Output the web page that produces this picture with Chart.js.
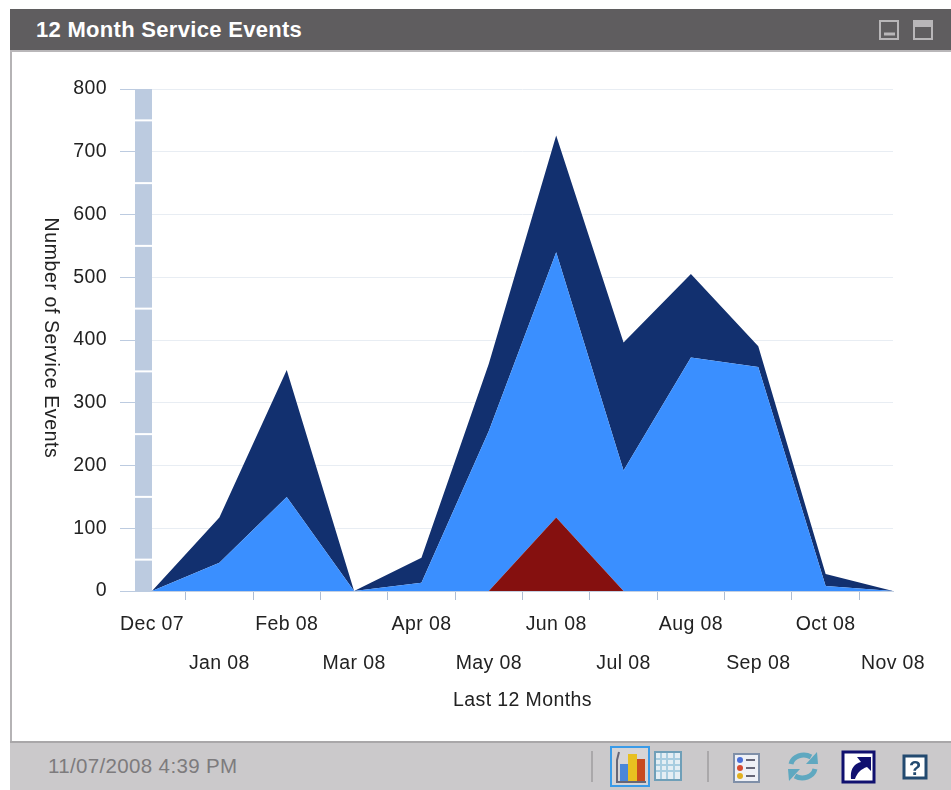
<!DOCTYPE html>
<html>
<head>
<meta charset="utf-8">
<title>12 Month Service Events</title>
<script src="https://cdn.jsdelivr.net/npm/chart.js@4"></script>
<style>
html, body { margin: 0; padding: 0; background: #fff; overflow: hidden; }
body { width: 951px; height: 790px; position: relative; font-family: "Liberation Sans", Arial, sans-serif; }
#frame { position: absolute; left: 10px; top: 9px; width: 941px; height: 781px; border-left: 2px solid #b5b3b5; box-sizing: border-box; }
#head { position: absolute; left: 10px; top: 9px; width: 941px; height: 43px; background: #5f5d5f; border-bottom: 2px solid #b9b7b9; box-sizing: border-box; color: #fff; font-weight: bold; font-size: 22px; letter-spacing: 0.3px; line-height: 42px; padding-left: 26px; }
#foot { position: absolute; left: 10px; top: 741px; width: 941px; height: 49px; background: #cbc9cb; border-top: 2px solid #a9a7a9; box-sizing: border-box; color: #7d7b7d; font-size: 20.5px; letter-spacing: 0.35px; line-height: 46px; padding-left: 38px; }
canvas { position: absolute; left: 11px; top: 52px; }
svg { position: absolute; left: 0; top: 0; }
</style>
</head>
<body>
<div id="frame"></div>
<div id="head">12 Month Service Events</div>
<div id="foot">11/07/2008 4:39 PM</div>
<canvas id="myChart" width="940" height="689"></canvas>
<svg width="951" height="790">
  <g fill="none" stroke="#b8b6b8" stroke-width="2">
    <rect x="880" y="21" width="18" height="18"/>
    <rect x="914" y="21" width="18" height="18"/>
    <path d="M884 34h11" stroke-width="3"/>
    <path d="M914 24h18" stroke-width="6"/>
  </g>
  <path d="M592 751v31M708 751v31" stroke="#aaa8aa" stroke-width="2"/>
  <rect x="611" y="747" width="38" height="39" fill="#d6d4d6" stroke="#3a9be8" stroke-width="2"/>
  <rect x="620" y="764" width="8" height="17" fill="#4a86d8"/>
  <rect x="628" y="754" width="9" height="27" fill="#e8c020"/>
  <rect x="637" y="759" width="8" height="22" fill="#c84a20"/>
  <path d="M619 752l-2 8v22h29" fill="none" stroke="#667" stroke-width="2"/>
  <rect x="655" y="752" width="26" height="28" fill="#e4eef4" stroke="#6f9fb8" stroke-width="2"/>
  <path d="M661 753v26M667 753v26M674 753v26M656 759h24M656 765h24M656 771h24" stroke="#a8cde0" stroke-width="2"/>
  <rect x="734" y="754" width="25" height="28" fill="#eef0f6" stroke="#7f8fa8" stroke-width="2"/>
  <circle cx="740" cy="760" r="3" fill="#4a6fd8"/><circle cx="740" cy="768" r="3" fill="#d84a30"/><circle cx="740" cy="776" r="3" fill="#e0b020"/>
  <path d="M746 760h9M746 768h9M746 776h9" stroke="#667" stroke-width="2"/>
  <path d="M791 764a13 11 0 0 1 20 -7M815 769a13 11 0 0 1 -20 7" fill="none" stroke="#5fa8c0" stroke-width="5"/>
  <path d="M806 764l12 0l-1 -12zM800 769l-12 0l1 12z" fill="#5fa8c0"/>
  <rect x="843" y="752" width="31" height="30" fill="#fff" stroke="#10106f" stroke-width="3"/>
  <path d="M851 779c-1-10 3-15 10-17l-4-5h14v14l-4-4c-6 2-10 6-12 12z" fill="#10106f"/>
  <rect x="904" y="756" width="22" height="22" fill="#fff" stroke="#234a70" stroke-width="3"/>
  <text x="915" y="775" text-anchor="middle" font-family="Liberation Sans" font-weight="bold" font-size="20" fill="#234a70">?</text>
</svg>
<script>
const months = ['Dec 07', 'Jan 08', 'Feb 08', 'Mar 08', 'Apr 08', 'May 08', 'Jun 08', 'Jul 08', 'Aug 08', 'Sep 08', 'Oct 08', 'Nov 08']
// stacked from the bottom up, as seen in the picture
const redEvents = [0, 0, 0, 0, 0, 0, 117, 0, 0, 0, 0, 0]
const lightEvents = [0, 45, 150, 0, 13, 255, 423, 192, 372, 357, 8, 0]
const darkEvents = [0, 72, 202, 0, 40, 107, 186, 204, 133, 33, 19, 0]
const yTicks = [0, 100, 200, 300, 400, 500, 600, 700, 800]
const yTitle = 'Number of Service Events'
const xTitle = 'Last 12 Months'

const textFont = { family: '"Liberation Sans", Arial, sans-serif', size: 19.5 }

// the pale wall left of the plot and the upside down axis title
const wallPlugin = {
    id: 'wall',
    beforeDraw(chart) {
        chart.ctx.letterSpacing = '0.4px'
    },
    beforeDatasetsDraw(chart) {
        const { ctx, scales: { y }, chartArea } = chart
        const top = y.getPixelForValue(800)
        const bottom = y.getPixelForValue(0)
        ctx.save()
        ctx.fillStyle = '#bccbe0'
        ctx.fillRect(chartArea.left - 17, top, 17, bottom - top)
        ctx.fillStyle = '#ffffff'
        yTicks.slice(0, -1).forEach((t) => {
            ctx.fillRect(chartArea.left - 17, y.getPixelForValue(t + 50) - 1, 17, 2)
        })
        ctx.restore()
    },
    afterDraw(chart) {
        const { ctx, scales: { y } } = chart
        ctx.save()
        ctx.translate(39, (y.top + y.bottom) / 2 - 2)
        ctx.rotate(Math.PI / 2)
        ctx.letterSpacing = '0.6px'
        ctx.font = '19.5px "Liberation Sans", Arial, sans-serif'
        ctx.fillStyle = '#222'
        ctx.textAlign = 'center'
        ctx.textBaseline = 'middle'
        ctx.fillText(yTitle, 0, 0)
        ctx.restore()
    }
}

const chart = document.getElementById('myChart')

new Chart(chart, {
    type: 'line',
    data: {
        labels: months,
        datasets: [
            { label: 'Red', data: redEvents, backgroundColor: '#85100f', fill: 'origin' },
            { label: 'Light', data: lightEvents, backgroundColor: '#3a8fff', fill: '-1' },
            { label: 'Dark', data: darkEvents, backgroundColor: '#12306f', fill: '-1' }
        ]
    },
    options: {
        responsive: false,
        animation: false,
        layout: { padding: { top: 37, right: 58, bottom: 25, left: 0 } },
        elements: { point: { radius: 0 }, line: { borderWidth: 0, tension: 0 } },
        plugins: { legend: { display: false }, tooltip: { enabled: false } },
        scales: {
            x: {
                offset: false,
                afterFit: (scale) => { scale.height = 125 },
                border: { color: '#c4d0e2' },
                grid: { offset: true, drawOnChartArea: false, tickLength: 9, tickColor: '#aebdd3' },
                title: { display: true, text: xTitle, color: '#222', font: textFont, padding: { top: 0 } },
                ticks: {
                    autoSkip: false,
                    maxRotation: 0,
                    color: '#222',
                    padding: 5,
                    font: { ...textFont, lineHeight: 2 },
                    callback: function (value, i) {
                        const label = this.getLabelForValue(value)
                        return i % 2 ? ['', label] : label
                    }
                }
            },
            y: {
                stacked: true,
                min: 0,
                max: 800,
                afterFit: (scale) => { scale.width = 141 },
                afterBuildTicks: (scale) => { scale.ticks = yTicks.map((v) => ({ value: v })) },
                border: { display: false },
                grid: { color: '#e8edf3', tickColor: '#bccbe0', tickLength: 32 },
                ticks: { color: '#222', padding: 13, font: textFont }
            }
        }
    },
    plugins: [wallPlugin]
})
</script>
</body>
</html>
